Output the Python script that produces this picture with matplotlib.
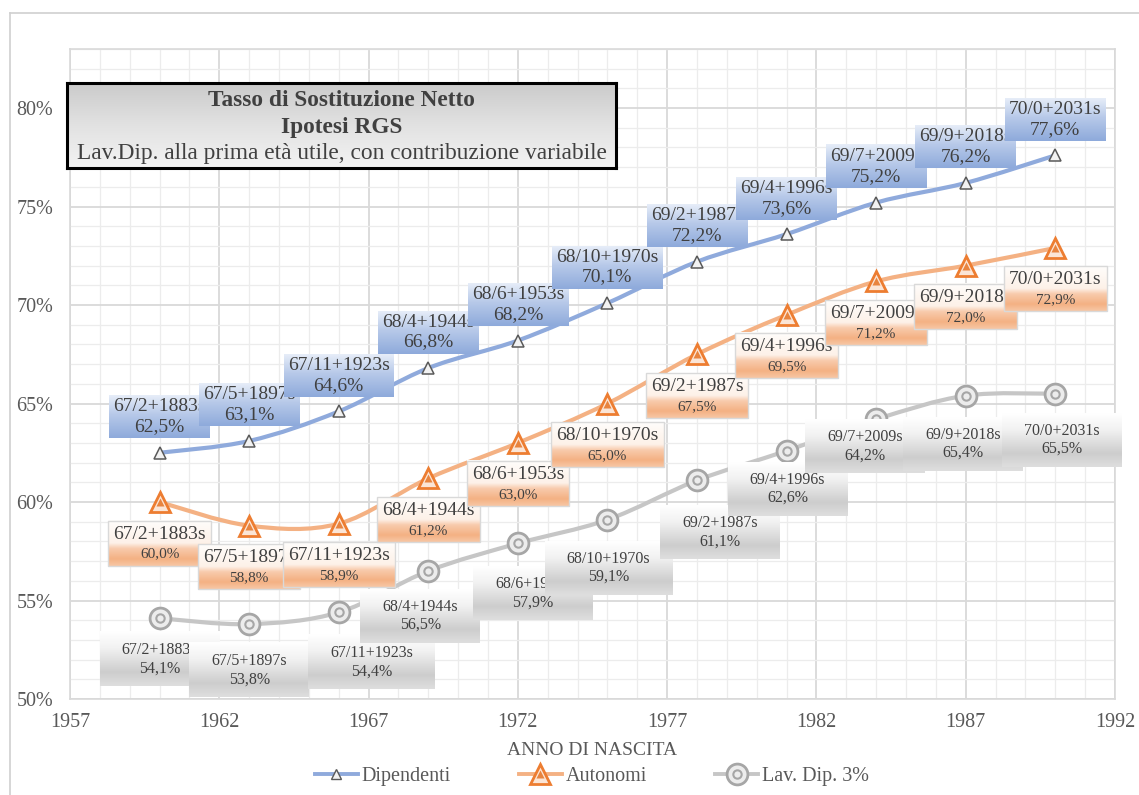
import numpy as np
import matplotlib
matplotlib.use("Agg")
import matplotlib.pyplot as plt
from matplotlib.path import Path
from matplotlib.patches import PathPatch, Rectangle
from matplotlib.lines import Line2D
from matplotlib.ticker import FixedLocator, FuncFormatter
from matplotlib.colors import to_rgb

# ---------------- data ----------------
anno_nascita = [1960, 1963, 1966, 1969, 1972, 1975, 1978, 1981, 1984, 1987, 1990]
eta_pensione = ["67/2+1883s", "67/5+1897s", "67/11+1923s", "68/4+1944s", "68/6+1953s",
                "68/10+1970s", "69/2+1987s", "69/4+1996s", "69/7+2009s", "69/9+2018s",
                "70/0+2031s"]
dipendenti = [62.5, 63.1, 64.6, 66.8, 68.2, 70.1, 72.2, 73.6, 75.2, 76.2, 77.6]
autonomi = [60.0, 58.8, 58.9, 61.2, 63.0, 65.0, 67.5, 69.5, 71.2, 72.0, 72.9]
lav_dip_3 = [54.1, 53.8, 54.4, 56.5, 57.9, 59.1, 61.1, 62.6, 64.2, 65.4, 65.5]

x_ticks = [1957, 1962, 1967, 1972, 1977, 1982, 1987, 1992]
y_ticks = [50, 55, 60, 65, 70, 75, 80]
series_names = ["Dipendenti", "Autonomi", "Lav. Dip. 3%"]
title_lines = ["Tasso di Sostituzione Netto", "Ipotesi RGS",
               "Lav.Dip. alla prima età utile, con contribuzione variabile"]
x_label = "ANNO DI NASCITA"

# ---------------- style ----------------
W, H = 1139, 795
FONT = "Liberation Serif"
TXT = "#404040"
AX_TXT = "#595959"
plt.rcParams["font.family"] = [FONT, "DejaVu Serif"]

fig = plt.figure(figsize=(W / 100, H / 100), dpi=100)
fig.patch.set_facecolor("white")

def px2fig(x0, y0, x1, y1):
    return [x0 / W, 1 - y1 / H, (x1 - x0) / W, (y1 - y0) / H]

ax = fig.add_axes(px2fig(70, 49, 1115, 699))
ax.set_xlim(1957, 1992)
ax.set_ylim(50, 83)
ax.set_autoscale_on(False)

ax.xaxis.set_major_locator(FixedLocator(x_ticks))
ax.xaxis.set_minor_locator(FixedLocator(np.arange(1957, 1993, 1)))
ax.yaxis.set_major_locator(FixedLocator(y_ticks))
ax.yaxis.set_minor_locator(FixedLocator(np.arange(50, 84, 1)))
ax.yaxis.set_major_formatter(FuncFormatter(lambda v, p: f"{v:.0f}%"))
ax.grid(which="major", color="#d9d9d9", lw=1.3, zorder=0)
ax.grid(which="minor", color="#ececec", lw=0.9, zorder=0)
ax.set_axisbelow(True)
ax.tick_params(which="both", length=0, colors=AX_TXT, labelsize=14.5)
ax.tick_params(axis="y", pad=12)
ax.tick_params(axis="x", pad=10)
for s in ax.spines.values():
    s.set_color("#d9d9d9")
    s.set_linewidth(1.2)
ax.set_xlabel(x_label, fontsize=14, color=AX_TXT)
ax.xaxis.set_label_coords(0.5, -(742 - 699) / 650)

# outer frame lines
fig.add_artist(Line2D([10 / W, 10 / W], [0, 1 - 13 / H], color="#d0d0d0", lw=1.2,
                      transform=fig.transFigure))
fig.add_artist(Line2D([10 / W, 1], [1 - 13 / H, 1 - 13 / H], color="#d0d0d0", lw=1.2,
                      transform=fig.transFigure))

def smooth_path(xs, ys, t=1.0):
    P = np.column_stack([xs, ys]).astype(float)
    n = len(P)
    verts = [P[0]]
    codes = [Path.MOVETO]
    for i in range(n - 1):
        p0 = P[i - 1] if i > 0 else P[i]
        p1, p2 = P[i], P[i + 1]
        p3 = P[i + 2] if i + 2 < n else P[i + 1]
        c1 = p1 + (p2 - p0) / 6 * t
        c2 = p2 - (p3 - p1) / 6 * t
        verts += [c1, c2, p2]
        codes += [Path.CURVE4] * 3
    return Path(verts, codes)

C_BLUE, C_ORANGE, C_GREY = "#8faadc", "#f4b183", "#c6c6c6"

# lines
for vals, col in [(lav_dip_3, C_GREY), (autonomi, C_ORANGE), (dipendenti, C_BLUE)]:
    ax.add_patch(PathPatch(smooth_path(anno_nascita, vals), fill=False, edgecolor=col,
                           lw=3.0, capstyle="round", zorder=3))

# markers
mk_dip = dict(marker="^", ms=8, mfc="#f2f2f2", mec="#595959", mew=1.1, ls="none")
mk_aut_o = dict(marker="^", ms=14, mfc="#fbe5d6", mec="#ed7d31", mew=2.0, ls="none")
mk_aut_i = dict(marker="^", ms=6, mfc="#e8843f", mec="none", ls="none")
mk_lav_o = dict(marker="o", ms=15, mfc="#ececec", mec="#a6a6a6", mew=2.0, ls="none")
mk_lav_i = dict(marker="o", ms=6, mfc="none", mec="#a6a6a6", mew=1.5, ls="none")
ax.plot(anno_nascita, dipendenti, zorder=5, **mk_dip)
ax.plot(anno_nascita, autonomi, zorder=5, **mk_aut_o)
ax.plot(anno_nascita, autonomi, zorder=5.1, **mk_aut_i)
ax.plot(anno_nascita, lav_dip_3, zorder=5, **mk_lav_o)
ax.plot(anno_nascita, lav_dip_3, zorder=5.1, **mk_lav_i)

# ---------------- data labels ----------------
def pct(v):
    return f"{v:.1f}".replace(".", ",") + "%"

grey_offsets = [(0, 41), (0, 46), (33, 50), (-8, 45), (15, 50), (1, 48), (23, 52),
                (1, 38), (-11, 27), (-3, 48), (7, 46)]
label_styles = [
    dict(vals=dipendenti, offs=[(0, -36)] * 11, fs1=14, fs2=14, gap=20, padx=4, pady=3,
         stops=[(0, "#e6edf8"), (0.45, "#b7c9e9"), (1, "#8eaadb")], ec=None, base=10),
    dict(vals=autonomi, offs=[(0, 42)] * 11, fs1=14, fs2=11, gap=20, padx=5, pady=5,
         stops=[(0, "#fffdfb"), (0.5, "#fdf1e8"), (0.62, "#f8cbad"), (0.85, "#f4b183"),
                (1, "#f7c6a4")], ec="#d9d9d9", base=30),
    dict(vals=lav_dip_3, offs=grey_offsets, fs1=11.5, fs2=11.5, gap=18, padx=22, pady=10,
         stops=[(0, "#ffffff"), (0.3, "#f2f2f2"), (0.75, "#cdcdcd"), (1, "#dedede")],
         ec=None, base=50),
]

def gradient(stops, n=64):
    pos = np.array([s[0] for s in stops])
    cols = np.array([to_rgb(s[1]) for s in stops])
    t = np.linspace(0, 1, n)
    g = np.stack([np.interp(t, pos, cols[:, k]) for k in range(3)], axis=-1)
    return np.repeat(g[:, None, :], 2, axis=1)

labels = []
for st in label_styles:
    for i, (x, v) in enumerate(zip(anno_nascita, st["vals"])):
        dx, dy = st["offs"][i]
        z = st["base"] + i
        t1 = ax.annotate(eta_pensione[i], xy=(x, v), xytext=(dx, -(dy - st["gap"] / 2)),
                         textcoords="offset pixels", ha="center", va="center",
                         fontsize=st["fs1"], color=TXT, zorder=z + 0.5,
                         annotation_clip=False)
        t2 = ax.annotate(pct(v), xy=(x, v), xytext=(dx, -(dy + st["gap"] / 2)),
                         textcoords="offset pixels", ha="center", va="center",
                         fontsize=st["fs2"], color=TXT, zorder=z + 0.5,
                         annotation_clip=False)
        labels.append((st, z, t1, t2))

fig.canvas.draw()
renderer = fig.canvas.get_renderer()
inv = ax.transData.inverted()
for st, z, t1, t2 in labels:
    e1 = t1.get_window_extent(renderer)
    e2 = t2.get_window_extent(renderer)
    bx0 = min(e1.x0, e2.x0) - st["padx"]
    bx1 = max(e1.x1, e2.x1) + st["padx"]
    by0 = min(e1.y0, e2.y0) - st["pady"]
    by1 = max(e1.y1, e2.y1) + st["pady"]
    (dx0, dy0), (dx1, dy1) = inv.transform([(bx0, by0), (bx1, by1)])
    ax.imshow(gradient(st["stops"]), extent=[dx0, dx1, dy0, dy1], aspect="auto",
              origin="upper", zorder=z, clip_on=False, interpolation="bilinear")
    if st["ec"]:
        ax.add_patch(Rectangle((dx0, dy0), dx1 - dx0, dy1 - dy0, fill=False,
                               edgecolor=st["ec"], lw=1.0, zorder=z + 0.2, clip_on=False))
ax.set_xlim(1957, 1992)
ax.set_ylim(50, 83)

# ---------------- title box ----------------
tax = fig.add_axes(px2fig(67, 83, 616, 168), zorder=5)
tax.imshow(gradient([(0, "#cbcbcb"), (0.5, "#e2e2e2"), (1, "#f3f3f3")]),
           extent=[0, 1, 0, 1], aspect="auto", origin="upper")
tax.set_xlim(0, 1)
tax.set_ylim(0, 1)
tax.set_xticks([])
tax.set_yticks([])
for s in tax.spines.values():
    s.set_color("black")
    s.set_linewidth(2.2)
for txt, ypx, w in zip(title_lines, [100, 127, 153], ["bold", "bold", "normal"]):
    tax.text(0.5, (168 - ypx) / 85, txt, ha="center", va="center", fontsize=16.8,
             fontweight=w, color=TXT)

# ---------------- legend ----------------
h_dip = Line2D([], [], color=C_BLUE, lw=2.8, marker="^", ms=7, mfc="#f2f2f2",
               mec="#595959", mew=1.0)
h_aut = (Line2D([], [], color=C_ORANGE, lw=2.8), Line2D([], [], **mk_aut_o),
         Line2D([], [], **mk_aut_i))
h_lav = (Line2D([], [], color=C_GREY, lw=2.8), Line2D([], [], **mk_lav_o),
         Line2D([], [], **mk_lav_i))
fig.legend([h_dip, h_aut, h_lav], series_names, loc="center",
           bbox_to_anchor=(592 / W, 1 - 776 / H), ncol=3, frameon=False,
           fontsize=14.5, handlelength=2.1, handletextpad=0.2, columnspacing=3.4,
           labelcolor=AX_TXT, numpoints=1)

fig.savefig("out.png", dpi=100, facecolor="white")
